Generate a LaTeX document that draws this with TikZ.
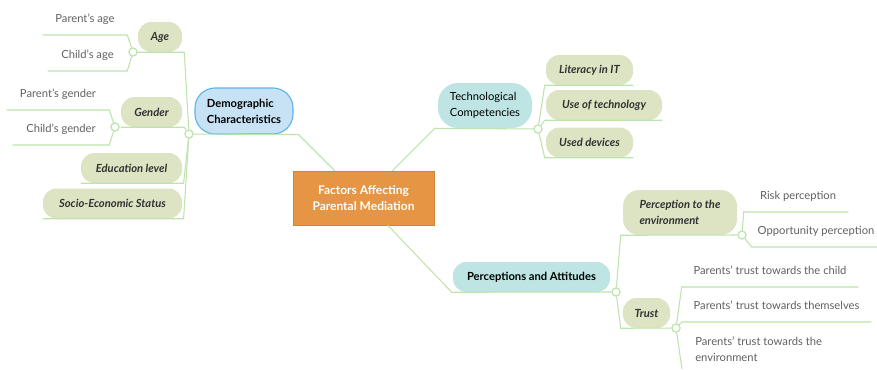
\documentclass[tikz,border=0pt]{standalone}
\usepackage{fontspec}
\setmainfont{Lato}
\usepackage{tikz}

\definecolor{linkgreen}{RGB}{188,228,172}
\definecolor{pillgreen}{RGB}{221,228,196}
\definecolor{demoblue}{RGB}{198,226,244}
\definecolor{demoedge}{RGB}{86,182,236}
\definecolor{topicteal}{RGB}{190,228,228}
\definecolor{mainorange}{RGB}{229,149,67}
\definecolor{leafgray}{RGB}{96,96,96}
\definecolor{subdark}{RGB}{50,50,50}

\tikzset{
  link/.style={draw=linkgreen, line width=0.8pt},
  hub/.style={circle, draw=linkgreen, fill=white, line width=0.8pt, inner sep=0pt, minimum size=6pt},
  topic/.style={rounded corners=15pt, inner sep=0pt, align=left, font=\fontsize{8.4}{12}\selectfont\bfseries},
  sub/.style={fill=pillgreen, rounded corners=10pt, inner sep=0pt, minimum height=22.5pt, text=subdark, font=\fontsize{8.4}{12}\selectfont\bfseries\itshape},
  leaf/.style={anchor=south, inner xsep=0pt, inner ysep=7pt, text depth=2.4pt, text=leafgray, font=\fontsize{8.4}{12}\selectfont}
}

\begin{document}
\begin{tikzpicture}[x=0.75pt,y=0.75pt,yscale=-1,xscale=1]

\useasboundingbox (0,0) rectangle (877,369);

% Central topic
\node [fill=mainorange, draw=mainorange!90!black, line width=0.4pt, minimum width=105.75pt, minimum height=40.5pt, align=center, text=white, font=\fontsize{9}{12.5}\selectfont\bfseries] (main) at (363.5,198) {Factors Affecting\\Parental Mediation};

% Main topics
\node [topic, fill=demoblue, draw=demoedge, line width=0.8pt, minimum width=73.5pt, minimum height=34.5pt] (demo) at (244,111) {Demographic\\Characteristics};
\node [topic, fill=topicteal, font=\fontsize{8.4}{12}\selectfont, minimum width=70.5pt, minimum height=33.75pt] (tech) at (485,105.5) {Technological\\Competencies};
\node [topic, fill=topicteal, rounded corners=10pt, minimum width=117.75pt, minimum height=22.5pt] (percatt) at (531.5,277) {Perceptions and Attitudes};

% Subtopics
\node [sub, minimum width=33pt] (age) at (160,37) {Age};
\node [sub, minimum width=45.75pt] (gender) at (151.5,112) {Gender};
\node [sub, minimum width=75.75pt] (edu) at (131.5,168) {Education level};
\node [sub, minimum width=104.25pt] (ses) at (112.5,203.5) {Socio-Economic Status};
\node [sub, minimum width=65.25pt] (literacy) at (589.5,70) {Literacy in IT};
\node [sub, minimum width=87pt] (usetech) at (604,105) {Use of technology};
\node [sub, minimum width=65.25pt] (devices) at (589.5,142.5) {Used devices};
\node [sub, align=left, rounded corners=12pt, minimum width=85.5pt, minimum height=33.75pt] (percenv) at (680,212.5) {Perception to the\\environment};
\node [sub, minimum width=35.25pt] (trust) at (646.5,313) {Trust};

% Hubs
\node [hub] (hdemo) at (189,134) {};
\node [hub] (hage) at (133,52) {};
\node [hub] (hgender) at (115,127) {};
\node [hub] (htech) at (538,129) {};
\node [hub] (hpercatt) at (616,292) {};
\node [hub] (hpercenv) at (742,235) {};
\node [hub] (htrust) at (676,328) {};

% Leaves
\node [leaf, minimum width=63pt] (pAge) at (85,35) {Parent's age};
\node [leaf, minimum width=59.25pt] (cAge) at (87.5,71) {Child's age};
\node [leaf, minimum width=76.5pt] (pGender) at (58,110) {Parent's gender};
\node [leaf, minimum width=72pt] (cGender) at (61,145) {Child's gender};
\node [leaf, minimum width=75pt] (risk) at (798,212) {Risk perception};
\node [leaf, minimum width=96pt] (opport) at (816,247) {Opportunity perception};
\node [leaf, minimum width=132pt] (tChild) at (770,287) {Parents' trust towards the child};
\node [leaf, minimum width=141.75pt] (tSelf) at (776.5,322) {Parents' trust towards themselves};
\node [leaf, anchor=south west, align=left, text depth=, inner xsep=9.75pt, inner ysep=5pt] (tEnv) at (682,369) {Parents' trust towards the\\environment};

% Links to the central topic
\draw [link] (hdemo) -- ([xshift=3.75pt]demo.south east) -- ([xshift=31.5pt]main.north west);
\draw [link] (htech) -- ([xshift=-2.25pt]tech.south west) -- ([xshift=-31.5pt]main.north east);
\draw [link] (hpercatt) -- ([xshift=-0.75pt]percatt.south west) -- ([xshift=71.25pt]main.south west);

% Demographic branch
\draw [link] (hdemo) -- ([xshift=1.5pt]age.south east) -- (age.south west);
\draw [link] (hdemo) -- ([xshift=1.5pt]gender.south east) -- (gender.south west);
\draw [link] (hdemo) -- ([xshift=1pt]edu.south east) -- (edu.south west);
\draw [link] (hdemo) -- ([xshift=1pt]ses.south east) -- (ses.south west);
\draw [link] (hage) -- (pAge.south east) -- (pAge.south west);
\draw [link] (hage) -- (cAge.south east) -- (cAge.south west);
\draw [link] (hgender) -- (pGender.south east) -- (pGender.south west);
\draw [link] (hgender) -- (cGender.south east) -- (cGender.south west);

% Technology branch
\draw [link] (htech) -- ([xshift=-0.75pt]literacy.south west) -- (literacy.south east);
\draw [link] (htech) -- ([xshift=-0.75pt]usetech.south west) -- (usetech.south east);
\draw [link] (htech) -- ([xshift=-0.75pt]devices.south west) -- (devices.south east);

% Perceptions branch
\draw [link] (hpercatt) -- ([xshift=-1.5pt]percenv.south west) -- (hpercenv);
\draw [link] (hpercatt) -- ([xshift=-1.5pt]trust.south west) -- (htrust);
\draw [link] (hpercenv) -- ([xshift=-3pt]risk.south west) -- (risk.south east);
\draw [link] (hpercenv) -- (opport.south west) -- (opport.south east);
\draw [link] (htrust) -- (tChild.south west) -- (tChild.south east);
\draw [link] (htrust) -- (tSelf.south west) -- (tSelf.south east);
\draw [link] (htrust) -- (tEnv.south west);

% Hubs on top
\foreach \h in {hdemo,hage,hgender,htech,hpercatt,hpercenv,htrust}
  \node [hub] at (\h) {};

\end{tikzpicture}
\end{document}
